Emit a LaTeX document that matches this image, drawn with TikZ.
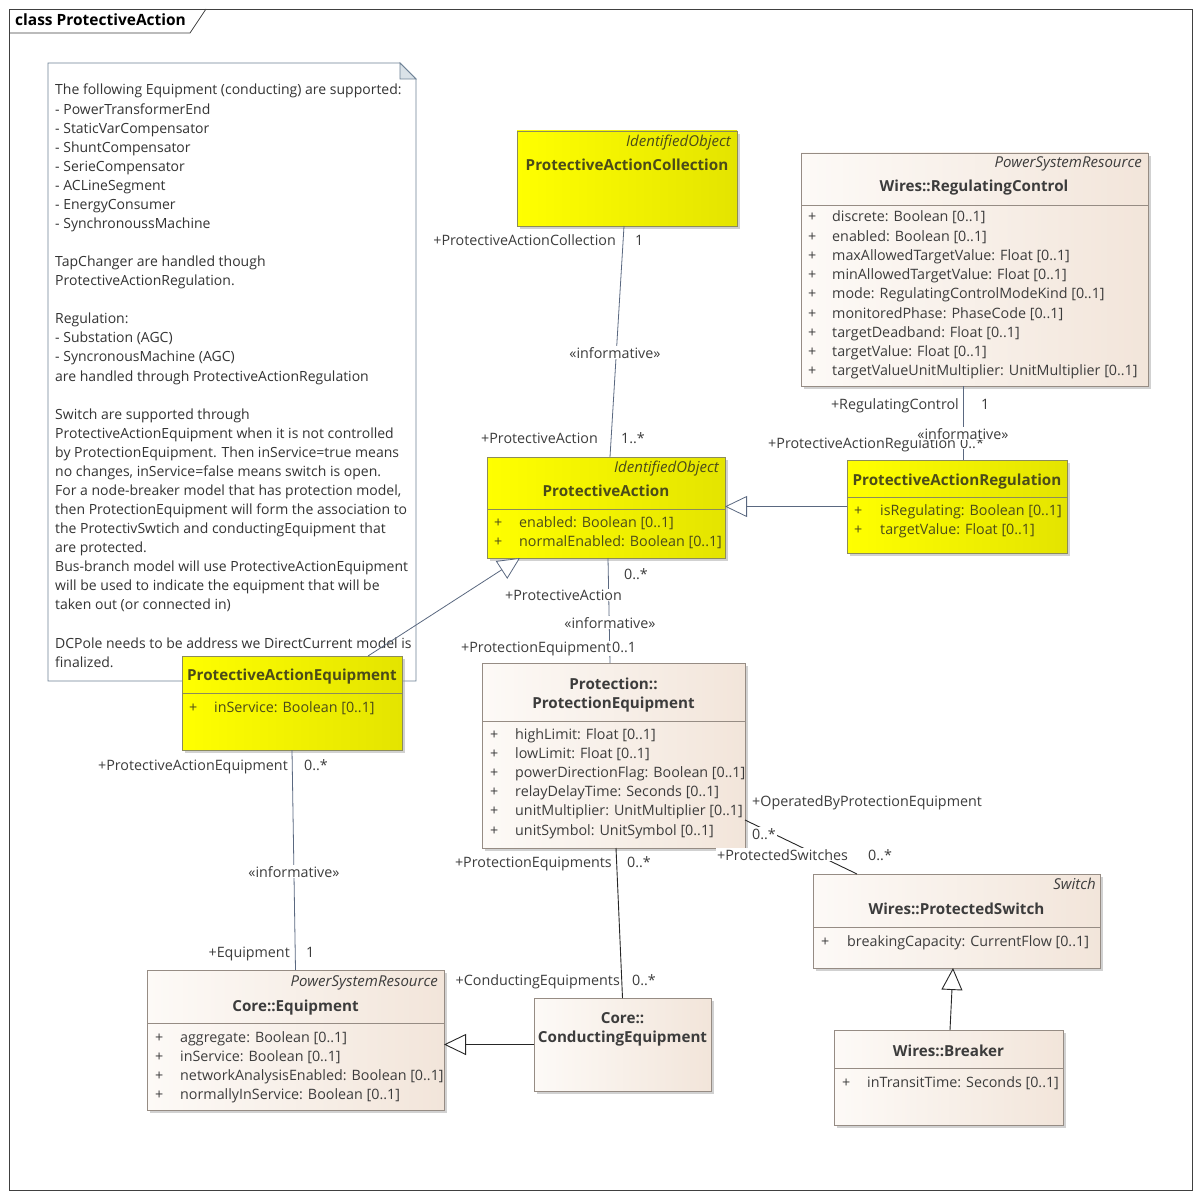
\documentclass[tikz,border=0pt]{standalone}
\usepackage{fontspec}
\setmainfont{Open Sans}
\usetikzlibrary{arrows.meta,shadows,positioning}

\definecolor{ylwL}{RGB}{255,255,0}
\definecolor{ylwR}{RGB}{228,228,0}
\definecolor{ylwLine}{RGB}{140,140,90}
\definecolor{ylwText}{RGB}{75,75,25}
\definecolor{bgeL}{RGB}{253,250,247}
\definecolor{bgeR}{RGB}{242,229,218}
\definecolor{bgeLine}{RGB}{150,140,132}
\definecolor{txtGray}{RGB}{60,60,60}
\definecolor{assocBlue}{RGB}{90,104,128}
\definecolor{noteLine}{RGB}{110,130,150}
\definecolor{noteFold}{RGB}{218,226,232}

\begin{document}
\begin{tikzpicture}[x=1pt,y=-1pt,
    font=\fontsize{14.3}{17}\selectfont,
    classbox/.style={anchor=north west, inner sep=0pt, outer sep=0pt, line width=0.8pt,
        drop shadow={shadow xshift=3pt, shadow yshift=-3pt, fill=black!40, opacity=0.45}},
    yclass/.style={classbox, draw=ylwLine, left color=ylwL, right color=ylwR},
    bclass/.style={classbox, draw=bgeLine, left color=bgeL, right color=bgeR},
    stereo/.style={anchor=base east, inner sep=0pt, font=\fontsize{15}{17}\selectfont\itshape},
    cname/.style={anchor=base, inner sep=0pt, font=\fontsize{15.2}{17}\selectfont\bfseries},
    attr/.style={anchor=base west, inner sep=0pt},
    role/.style={inner sep=1pt, fill=white, text=txtGray},
    assoc/.style={draw=assocBlue, line width=0.8pt},
    plain/.style={draw=black!85, line width=0.9pt},
    gen/.style={-{Triangle[open, length=22pt, width=21pt, fill=white]}}]

\useasboundingbox (0,0) rectangle (1201,1198);
\fill[white] (0,0) rectangle (1201,1198);

% Frame and title tab
\draw[black!75, line width=0.8pt] (9,9) rectangle (1192,1190);
\draw[black!75, line width=0.8pt] (9,33) -- (190,33) -- (206,9);
\node[anchor=base west, inner sep=0pt, font=\fontsize{15.5}{17}\selectfont\bfseries] (title) at (15,26) {class ProtectiveAction};

% Note
\draw[noteLine, fill=white, line width=0.8pt] (48,63) -- (400,63) -- (416,79) -- (416,681) -- (48,681) -- cycle;
\draw[noteLine, fill=noteFold, line width=0.8pt] (400,63) -- (400,79) -- (416,79) -- cycle;
\foreach \i/\t in {0/The following Equipment (conducting) are supported:,
    1/- PowerTransformerEnd, 2/- StaticVarCompensator, 3/- ShuntCompensator,
    4/- SerieCompensator, 5/- ACLineSegment, 6/- EnergyConsumer,
    7/- SynchronoussMachine, 9/TapChanger are handled though,
    10/ProtectiveActionRegulation., 12/Regulation:, 13/- Substation (AGC),
    14/- SyncronousMachine (AGC), 15/are handled through ProtectiveActionRegulation,
    17/Switch are supported through,
    18/ProtectiveActionEquipment when it is not controlled,
    19/by ProtectionEquipment. Then inService=true means,
    20/{no changes, inService=false means switch is open.},
    21/{For a node-breaker model that has protection model,},
    22/then ProtectionEquipment will form the association to,
    23/the ProtectivSwtich and conductingEquipment that,
    24/are protected.,
    25/Bus-branch model will use ProtectiveActionEquipment,
    26/will be used to indicate the equipment that will be,
    27/taken out (or connected in),
    29/DCPole needs to be address we DirectCurrent model is,
    30/finalized.}
  \node[attr, text=black!80, font=\fontsize{14}{17}\selectfont] (note\i) at (55,95+19.07*\i) {\t};

% Classes
\node[yclass, minimum width=220pt, minimum height=95pt] (pac) at (517,131) {};
\node[bclass, minimum width=347pt, minimum height=233pt] (rc) at (801,153) {};
\node[yclass, minimum width=238pt, minimum height=101pt] (pa) at (487,457) {};
\node[yclass, minimum width=220pt, minimum height=93pt] (par) at (847,460) {};
\node[yclass, minimum width=220pt, minimum height=94pt] (pae) at (182,656) {};
\node[bclass, minimum width=263pt, minimum height=185pt] (pe) at (482,663) {};
\node[bclass, minimum width=287pt, minimum height=94pt] (ps) at (813,874) {};
\node[bclass, minimum width=297pt, minimum height=140pt] (eq) at (147,970) {};
\node[bclass, minimum width=177pt, minimum height=93pt] (ce) at (534,998) {};
\node[bclass, minimum width=229pt, minimum height=95pt] (br) at (834,1030) {};

% Connectors
\draw[assoc] ([xshift=-3pt]pac.south) -- ([xshift=4pt]pa.north);
\draw[assoc] ([xshift=-11.5pt]rc.south) -- ([xshift=6pt]par.north);
\draw[assoc] ([xshift=2pt]pa.south) -- ([xshift=-3.5pt]pe.north);
\draw[assoc] (pae.south) -- (eq.north);
\draw[plain] ([xshift=2.5pt]pe.south) -- (ce.north);
\draw[plain] ([yshift=28pt]pe.south east) -- ([xshift=44pt]ps.north west);

% Generalizations
\draw[assoc, gen] (par.west) -- (pa.east |- par.west);
\draw[assoc, gen] ([xshift=-34pt]pae.north east) -- ([xshift=33pt]pa.south west);
\draw[plain, gen] ([xshift=1.5pt]br.north) -- ([xshift=-3.5pt]ps.south);
\draw[plain, gen] (ce.west) -- (eq.east |- ce.west);

% ProtectiveActionCollection
\node[stereo, text=ylwText] (pacS) at (731,147) {IdentifiedObject};
\node[cname, text=ylwText] (pacN) at (627,171) {ProtectiveActionCollection};

% Wires::RegulatingControl
\node[stereo, text=txtGray] (rcS) at (1142,168) {PowerSystemResource};
\node[cname, text=txtGray] (rcN) at (974,192) {Wires::RegulatingControl};
\draw[bgeLine, line width=0.8pt] (801,205) -- (1148,205);
\foreach \t [count=\i from 0] in {discrete: Boolean [0..1], enabled: Boolean [0..1],
    maxAllowedTargetValue: Float [0..1], minAllowedTargetValue: Float [0..1],
    mode: RegulatingControlModeKind [0..1], monitoredPhase: PhaseCode [0..1],
    targetDeadband: Float [0..1], targetValue: Float [0..1],
    targetValueUnitMultiplier: UnitMultiplier [0..1]} {
  \node[attr, text=txtGray] (rcP\i) at (808,222+19.2*\i) {+};
  \node[attr, text=txtGray] (rcA\i) at (832,222+19.2*\i) {\t};
}

% ProtectiveAction
\node[stereo, text=ylwText] (paS) at (719,472) {IdentifiedObject};
\node[cname, text=ylwText] (paN) at (606,496) {ProtectiveAction};
\draw[ylwLine, line width=0.8pt] (487,509) -- (725,509);
\foreach \t [count=\i from 0] in {enabled: Boolean [0..1], normalEnabled: Boolean [0..1]} {
  \node[attr, text=ylwText] (paP\i) at (494,527+19.2*\i) {+};
  \node[attr, text=ylwText] (paA\i) at (519,527+19.2*\i) {\t};
}

% ProtectiveActionRegulation
\node[cname, text=ylwText] (parN) at (957,485) {ProtectiveActionRegulation};
\draw[ylwLine, line width=0.8pt] (847,497) -- (1067,497);
\foreach \t [count=\i from 0] in {isRegulating: Boolean [0..1], targetValue: Float [0..1]} {
  \node[attr, text=ylwText] (parP\i) at (854,515+19.2*\i) {+};
  \node[attr, text=ylwText] (parA\i) at (880,515+19.2*\i) {\t};
}

% ProtectiveActionEquipment
\node[cname, text=ylwText] (paeN) at (292,680) {ProtectiveActionEquipment};
\draw[ylwLine, line width=0.8pt] (182,693) -- (402,693);
\node[attr, text=ylwText] (paeP0) at (189,712) {+};
\node[attr, text=ylwText] (paeA0) at (214,712) {inService: Boolean [0..1]};

% Protection::ProtectionEquipment
\node[cname, text=txtGray] (peN1) at (613.5,689) {Protection::};
\node[cname, text=txtGray] (peN2) at (613.5,708) {ProtectionEquipment};
\draw[bgeLine, line width=0.8pt] (482,721) -- (745,721);
\foreach \t [count=\i from 0] in {highLimit: Float [0..1], lowLimit: Float [0..1],
    powerDirectionFlag: Boolean [0..1], relayDelayTime: Seconds [0..1],
    unitMultiplier: UnitMultiplier [0..1], unitSymbol: UnitSymbol [0..1]} {
  \node[attr, text=txtGray] (peP\i) at (490,739+19.2*\i) {+};
  \node[attr, text=txtGray] (peA\i) at (515,739+19.2*\i) {\t};
}

% Wires::ProtectedSwitch
\node[stereo, text=txtGray] (psS) at (1096,889) {Switch};
\node[cname, text=txtGray] (psN) at (956.5,914) {Wires::ProtectedSwitch};
\draw[bgeLine, line width=0.8pt] (813,927) -- (1100,927);
\node[attr, text=txtGray] (psP0) at (821,946) {+};
\node[attr, text=txtGray] (psA0) at (847,946) {breakingCapacity: CurrentFlow [0..1]};

% Core::Equipment
\node[stereo, text=txtGray] (eqS) at (438,986) {PowerSystemResource};
\node[cname, text=txtGray] (eqN) at (295.5,1011) {Core::Equipment};
\draw[bgeLine, line width=0.8pt] (147,1023) -- (444,1023);
\foreach \t [count=\i from 0] in {aggregate: Boolean [0..1], inService: Boolean [0..1],
    networkAnalysisEnabled: Boolean [0..1], normallyInService: Boolean [0..1]} {
  \node[attr, text=txtGray] (eqP\i) at (155,1042+19.1*\i) {+};
  \node[attr, text=txtGray] (eqA\i) at (180,1042+19.1*\i) {\t};
}

% Core::ConductingEquipment
\node[cname, text=txtGray] (ceN1) at (622.5,1023) {Core::};
\node[cname, text=txtGray] (ceN2) at (622.5,1042) {ConductingEquipment};

% Wires::Breaker
\node[cname, text=txtGray] (brN) at (948.5,1056) {Wires::Breaker};
\draw[bgeLine, line width=0.8pt] (834,1068) -- (1063,1068);
\node[attr, text=txtGray] (brP0) at (842,1087) {+};
\node[attr, text=txtGray] (brA0) at (867,1087) {inTransitTime: Seconds [0..1]};

% Role names and multiplicities
\node[role, anchor=base east] (r1) at (617,246) {+ProtectiveActionCollection};
\node[role, anchor=base west] (m1) at (634,246) {1};
\node[role, anchor=base] (i1) at (615,358) {«informative»};
\node[role, anchor=base east] (r2) at (599,443) {+ProtectiveAction};
\node[role, anchor=base west] (m2) at (620,443) {1..*};
\node[role, anchor=base east] (r3) at (960,409) {+RegulatingControl};
\node[role, anchor=base west] (m3) at (980,409) {1};
\node[role, anchor=base west] (r4) at (767,448) {+ProtectiveActionRegulation};
\node[role, anchor=base west] (m4) at (959,448) {0..*};
\node[role, anchor=base] (i2) at (963,439) {«informative»};
\node[role, anchor=base west] (m5) at (623,579) {0..*};
\node[role, anchor=base west] (r5) at (504,600) {+ProtectiveAction};
\node[role, anchor=base] (i3) at (610,628) {«informative»};
\node[role, anchor=base west] (r6) at (460,652) {+ProtectionEquipment};
\node[role, anchor=base west, fill=none] (m6) at (611,652) {0..1};
\node[role, anchor=base east] (r7) at (289,770) {+ProtectiveActionEquipment};
\node[role, anchor=base west] (m7) at (303,770) {0..*};
\node[role, anchor=base] (i4) at (294,877) {«informative»};
\node[role, anchor=base east] (r8) at (291,957) {+Equipment};
\node[role, anchor=base west] (m8) at (305,957) {1};
\node[role, anchor=base east] (r9) at (613,867) {+ProtectionEquipments};
\node[role, anchor=base west] (m9) at (626,867) {0..*};
\node[role, anchor=base east] (r10) at (621,985) {+ConductingEquipments};
\node[role, anchor=base west] (m10) at (631,985) {0..*};
\node[role, anchor=base west] (r11) at (751,806) {+OperatedByProtectionEquipment};
\node[role, anchor=base west] (m11) at (751,839) {0..*};
\node[role, anchor=base west] (r12) at (716,860) {+ProtectedSwitches};
\node[role, anchor=base west] (m12) at (867,860) {0..*};
\end{tikzpicture}
\end{document}
